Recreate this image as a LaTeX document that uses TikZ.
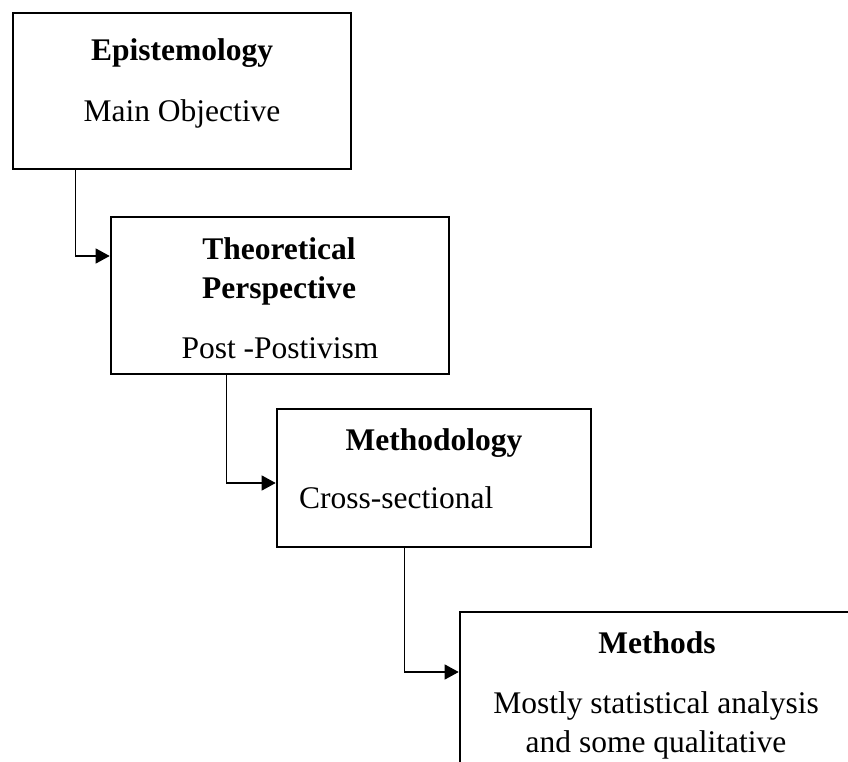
\documentclass[tikz,border=0pt]{standalone}
\usepackage{fontspec}
\setmainfont{Liberation Serif}
\usetikzlibrary{arrows.meta}
\begin{document}
\begin{tikzpicture}[x=1pt,y=-1pt,
  box/.style={draw=black,line width=2.6pt,fill=white,inner sep=0pt},
  conn/.style={draw=black,line width=1.2pt,-{Triangle[length=14pt,width=15pt]}},
  txt/.style={inner sep=0pt,anchor=base,font=\fontsize{31.5}{39}\selectfont},
  btxt/.style={txt,font=\fontsize{31.5}{39}\selectfont\bfseries}]
\useasboundingbox (0,0) rectangle (848,762);
\clip (0,0) rectangle (848,762);
\node[box,minimum width=338pt,minimum height=156pt] (b1) at (182,91) {};
\node[box,minimum width=338pt,minimum height=157pt] (b2) at (280,295.5) {};
\node[box,minimum width=314pt,minimum height=138pt] (b3) at (434,478) {};
\node[box,minimum width=392pt,minimum height=200pt] (b4) at (656,712) {};
\node[btxt] (t1) at (182,61) {Epistemology};
\node[txt] (s1) at (182,122) {Main Objective};
\node[btxt] (t2a) at (279,259) {Theoretical};
\node[btxt] (t2b) at (279,298) {Perspective};
\node[txt] (s2) at (280,358) {Post -Postivism};
\node[btxt] (t3) at (434,450) {Methodology};
\node[txt,anchor=base west] (s3) at (299,508) {Cross-sectional};
\node[btxt] (t4) at (657,653) {Methods};
\node[txt] (s4a) at (656,713) {Mostly statistical analysis};
\node[txt] (s4b) at (656,752) {and some qualitative};
\draw[conn] ([xshift=64pt]b1.south west) |- ([yshift=39.5pt]b2.west);
\draw[conn] ([xshift=117pt]b2.south west) |- ([yshift=-5pt]b3.west);
\draw[conn] ([xshift=129pt]b3.south west) |- ([yshift=40pt]b4.west);
\end{tikzpicture}
\end{document}
